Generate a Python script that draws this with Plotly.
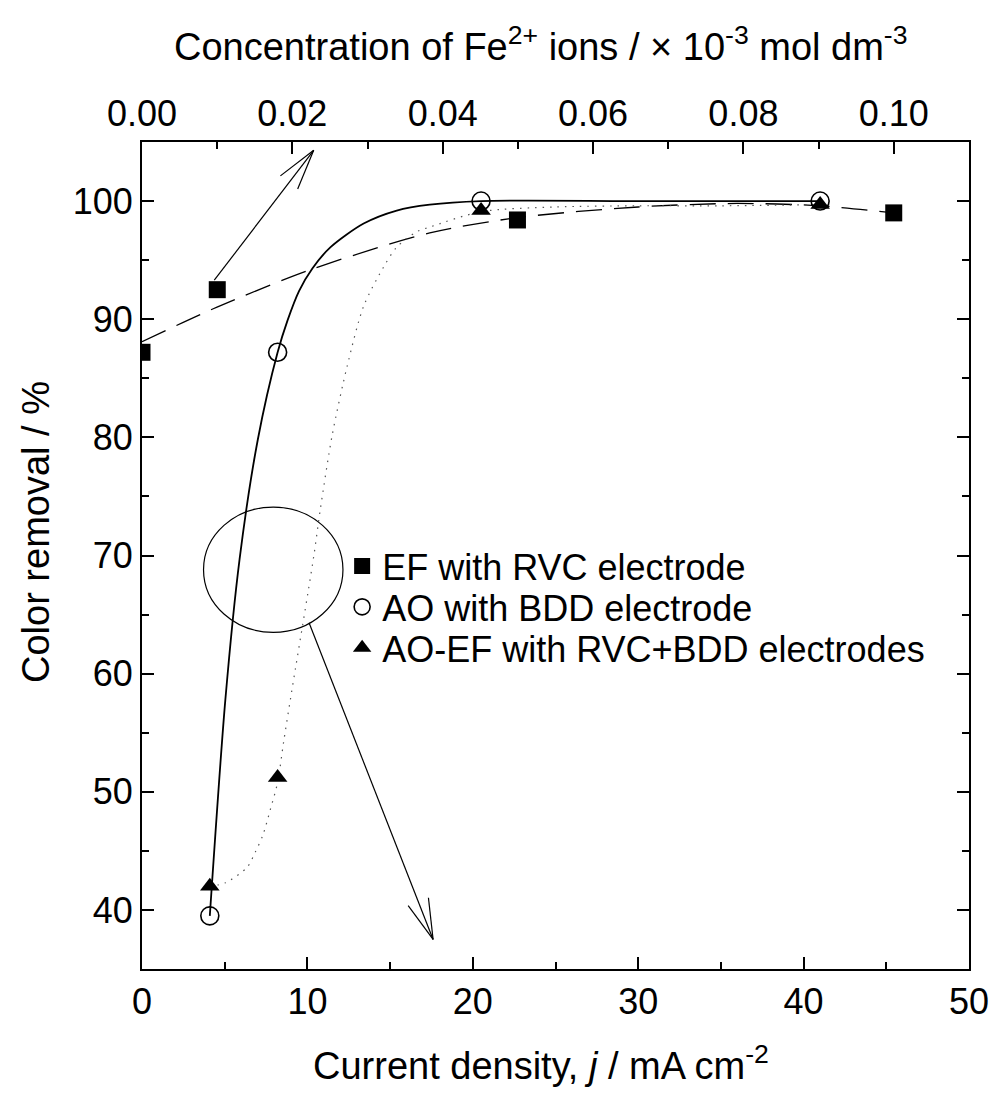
import math
import plotly.graph_objects as go

# ---------------- data ----------------
# Current density j / mA cm-2 and colour removal / %
ef_j = [0.0, 4.55, 22.7, 45.45]
ef_removal = [87.2, 92.5, 98.4, 99.0]

ao_j = [4.1, 8.2, 20.5, 41.0]
ao_removal = [39.5, 87.2, 100.0, 100.0]

aoef_j = [4.1, 8.2, 20.5, 41.0]
aoef_removal = [42.0, 51.2, 99.2, 99.7]

# fitted curves as drawn in the reference
ef_fit_j = [0.0, 4.5, 10.2, 17.4, 22.7, 30.0, 36.0, 41.0, 45.45]
ef_fit_removal = [88.1, 91.0, 94.2, 97.3, 98.6, 99.5, 99.8, 99.6, 99.0]

ao_fit_j = [4.1, 5.04, 5.9, 7.0, 8.2, 8.8, 9.5, 10.3, 11.4, 13.4, 15.4, 17.4, 20.5, 30.0, 41.0]
ao_fit_removal = [39.5, 57.8, 69.7, 79.8, 87.2, 89.9, 92.4, 94.3, 96.1, 98.1, 99.2, 99.7, 100.0, 100.0, 100.0]

aoef_fit_j = [4.1, 5.04, 6.35, 6.85, 7.3, 7.76, 8.2, 8.56, 8.97, 10.38, 10.78, 11.5, 12.4, 13.4,
              14.6, 15.4, 16.6, 17.4, 20.5, 25.0, 30.0, 35.0, 41.0]
aoef_fit_removal = [42.0, 42.3, 43.6, 44.9, 46.3, 48.5, 50.8, 54.2, 57.8, 69.9, 73.9, 80.2, 86.0, 91.1,
                    94.4, 96.1, 97.4, 97.8, 99.1, 99.5, 99.6, 99.6, 99.7]

series_names = ["EF with RVC electrode", "AO with BDD electrode", "AO-EF with RVC+BDD electrodes"]

# axes
x_range = [0, 50]
y_range = [35, 105]
x_ticks = [0, 10, 20, 30, 40, 50]
y_ticks = [40, 50, 60, 70, 80, 90, 100]
conc_ticks = [0.00, 0.02, 0.04, 0.06, 0.08, 0.10]
conc_at_j = (0.10, 45.45)   # 0.10 x10^-3 mol dm-3 corresponds to 45.45 mA cm-2

x_title = "Current density, <i>j</i> / mA cm<sup>-2</sup>"
x2_title = "Concentration of Fe<sup>2+</sup> ions / × 10<sup>-3</sup> mol dm<sup>-3</sup>"
y_title = "Color removal / %"

# annotations (data coordinates)
arrow1 = dict(start=(4.37, 93.3), tip=(10.38, 104.3))
arrow2 = dict(start=(10.1, 64.3), tip=(17.6, 37.5))
ellipse = dict(x0=3.72, x1=12.15, y0=63.5, y1=74.1)

# legend rows (paper y of row centres)
legend_rows = [0.4873, 0.4378, 0.3882]
legend_x = 0.242

# ---------------- figure ----------------
W, H = 990, 1093
M = dict(l=142, r=21, t=142, b=124)
pw = W - M["l"] - M["r"]
ph = H - M["t"] - M["b"]
sx = pw / (x_range[1] - x_range[0])
sy = ph / (y_range[1] - y_range[0])

FONT = "Liberation Sans, Arial, sans-serif"
FS_TICK = 36
FS_TITLE = 38
FS_LEG = 36

fig = go.Figure()

fig.add_trace(go.Scatter(x=ef_fit_j, y=ef_fit_removal, mode="lines",
                         line=dict(color="black", width=1.3, dash="26px,12px", shape="spline", smoothing=0.8),
                         showlegend=False, hoverinfo="skip"))
fig.add_trace(go.Scatter(x=ao_fit_j, y=ao_fit_removal, mode="lines",
                         line=dict(color="black", width=1.8, shape="spline", smoothing=0.8),
                         showlegend=False, hoverinfo="skip"))
fig.add_trace(go.Scatter(x=aoef_fit_j, y=aoef_fit_removal, mode="lines",
                         line=dict(color="#555555", width=1.2, dash="1.5px,6px", shape="spline", smoothing=0.8),
                         showlegend=False, hoverinfo="skip"))

fig.add_trace(go.Scatter(x=ef_j, y=ef_removal, mode="markers", name=series_names[0], legend="legend",
                         marker=dict(symbol="square", size=17, color="black")))
fig.add_trace(go.Scatter(x=ao_j, y=ao_removal, mode="markers", name=series_names[1], legend="legend2",
                         marker=dict(symbol="circle-open", size=18, color="black",
                                     line=dict(width=1.6, color="black"))))
fig.add_trace(go.Scatter(x=aoef_j, y=aoef_removal, mode="markers", name=series_names[2], legend="legend3",
                         marker=dict(symbol="triangle-up", size=17, color="black")))

# invisible trace to carry the top axis
fig.add_trace(go.Scatter(x=[conc_ticks[0], conc_ticks[-1]], y=[None, None], xaxis="x2",
                         mode="markers", showlegend=False, hoverinfo="skip"))


def add_arrow(a, head_len=42, half_angle=15):
    (x0, y0), (x1, y1) = a["start"], a["tip"]
    fig.add_shape(type="line", x0=x0, y0=y0, x1=x1, y1=y1, xref="x", yref="y",
                  line=dict(color="black", width=1.2))
    dxp = (x0 - x1) * sx
    dyp = (y0 - y1) * sy
    ang = math.atan2(dyp, dxp)
    for s in (-1, 1):
        t = ang + s * math.radians(half_angle)
        hx = x1 + head_len * math.cos(t) / sx
        hy = y1 + head_len * math.sin(t) / sy
        fig.add_shape(type="line", x0=x1, y0=y1, x1=hx, y1=hy, xref="x", yref="y",
                      line=dict(color="black", width=1.2))


add_arrow(arrow1)
add_arrow(arrow2)
fig.add_shape(type="circle", xref="x", yref="y", line=dict(color="black", width=1.2), **ellipse)

# axis titles as annotations (pixel positions converted to paper fractions)
def px_to_paper(px, py):
    return (px - M["l"]) / pw, (H - M["b"] - py) / ph

tx, ty = px_to_paper(541, 1063)
fig.add_annotation(text=x_title, x=tx, y=ty, xref="paper", yref="paper", showarrow=False,
                   xanchor="center", yanchor="middle", font=dict(family=FONT, size=FS_TITLE, color="black"))
tx, ty = px_to_paper(541, 44)
fig.add_annotation(text=x2_title, x=tx, y=ty, xref="paper", yref="paper", showarrow=False,
                   xanchor="center", yanchor="middle", font=dict(family=FONT, size=FS_TITLE, color="black"))
tx, ty = px_to_paper(36, 532)
fig.add_annotation(text=y_title, x=tx, y=ty, xref="paper", yref="paper", showarrow=False, textangle=-90,
                   xanchor="center", yanchor="middle", font=dict(family=FONT, size=FS_TITLE, color="black"))

axis_common = dict(showline=True, linecolor="black", linewidth=2, ticks="inside",
                   ticklen=12, tickwidth=1.5, tickcolor="black", showgrid=False,
                   zeroline=False, automargin=False,
                   tickfont=dict(family=FONT, size=FS_TICK, color="black"))
minor_common = dict(ticks="inside", ticklen=7, tickcolor="black", tickwidth=1.5)

conc_max = x_range[1] * conc_at_j[0] / conc_at_j[1]


def leg(y):
    return dict(x=legend_x, y=y, xanchor="left", yanchor="middle", bgcolor="rgba(0,0,0,0)",
                font=dict(family=FONT, size=FS_LEG, color="black"))


fig.update_layout(
    width=W, height=H, margin=M, template="none",
    paper_bgcolor="white", plot_bgcolor="white",
    font=dict(family=FONT, size=FS_TICK, color="black"),
    xaxis=dict(range=x_range, tickvals=x_ticks, mirror=False,
               minor=dict(dtick=5, **minor_common), **axis_common),
    xaxis2=dict(range=[0, conc_max], overlaying="x", side="top", anchor="y",
                tickvals=conc_ticks, ticktext=[f"{v:.2f}" for v in conc_ticks],
                minor=dict(dtick=0.01, **minor_common), **axis_common),
    yaxis=dict(range=y_range, tickvals=y_ticks, mirror="ticks",
               minor=dict(dtick=5, **minor_common), **axis_common),
    legend=leg(legend_rows[0]),
    legend2=leg(legend_rows[1]),
    legend3=leg(legend_rows[2]),
    showlegend=True,
)

fig.write_html("out.html")
